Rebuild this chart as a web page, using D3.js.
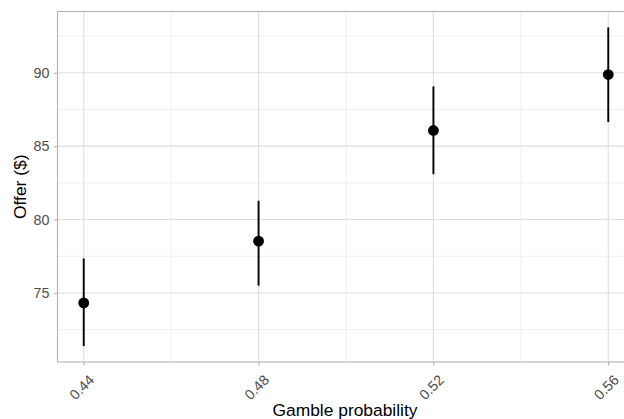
<!DOCTYPE html>
<html>
<head>
<meta charset="utf-8">
<script src="https://cdn.jsdelivr.net/npm/d3@7"></script>
<style>
  body { margin: 0; background: #fff; }
  svg { display: block; }
  svg text { font-family: "Liberation Sans", Arial, sans-serif; }
</style>
</head>
<body>
<div id="chart"></div>
<script>
// gamble probability vs offer, mean with interval
var probs = [0.44, 0.48, 0.52, 0.56];
var offerMean = [74.32, 78.53, 86.07, 89.88];
var offerLow = [71.38, 75.5, 83.09, 86.64];
var offerHigh = [77.35, 81.28, 89.07, 93.09];
var xTicks = [0.44, 0.48, 0.52, 0.56];
var xMinor = [0.46, 0.50, 0.54];
var yTicks = [75, 80, 85, 90];
var yMinor = [72.5, 77.5, 82.5, 87.5, 92.5];

var totalWidth = 624,
    totalHeight = 419;
var margin = {top: 11.5, right: -10.5, bottom: 57, left: 57.5};
var width = totalWidth - margin.left - margin.right,
    height = totalHeight - margin.top - margin.bottom;

var data = probs.map(function(p, i) {
    return {p: p, mean: offerMean[i], lo: offerLow[i], hi: offerHigh[i]};
});

var xr = d3.extent(probs), xPad = (xr[1] - xr[0]) * 0.05;
var xScale = d3.scaleLinear().domain([xr[0] - xPad, xr[1] + xPad]).range([0, width]);
var yr = [d3.min(offerLow), d3.max(offerHigh)], yPad = (yr[1] - yr[0]) * 0.05;
var yScale = d3.scaleLinear().domain([yr[0] - yPad, yr[1] + yPad]).range([height, 0]);

var svg = d3.select("#chart").append("svg")
    .attr("width", totalWidth)
    .attr("height", totalHeight);

var g = svg.append("g").attr("transform", "translate(" + margin.left + "," + margin.top + ")");

// grid
g.selectAll(".ymin").data(yMinor).enter().append("line")
    .attr("x1", 0).attr("x2", width)
    .attr("y1", yScale).attr("y2", yScale)
    .attr("stroke", "#e4e4e4").attr("stroke-width", 0.6);
g.selectAll(".xmin").data(xMinor).enter().append("line")
    .attr("y1", 0).attr("y2", height)
    .attr("x1", xScale).attr("x2", xScale)
    .attr("stroke", "#e4e4e4").attr("stroke-width", 0.6);
g.selectAll(".ymaj").data(yTicks).enter().append("line")
    .attr("x1", 0).attr("x2", width)
    .attr("y1", yScale).attr("y2", yScale)
    .attr("stroke", "#dedede").attr("stroke-width", 1.1);
g.selectAll(".xmaj").data(xTicks).enter().append("line")
    .attr("y1", 0).attr("y2", height)
    .attr("x1", xScale).attr("x2", xScale)
    .attr("stroke", "#dedede").attr("stroke-width", 1.1);

// error bars and points
g.selectAll(".err").data(data).enter().append("line")
    .attr("x1", function(d) { return xScale(d.p); })
    .attr("x2", function(d) { return xScale(d.p); })
    .attr("y1", function(d) { return yScale(d.lo); })
    .attr("y2", function(d) { return yScale(d.hi); })
    .attr("stroke", "#000").attr("stroke-width", 1.9);
g.selectAll(".pt").data(data).enter().append("circle")
    .attr("cx", function(d) { return xScale(d.p); })
    .attr("cy", function(d) { return yScale(d.mean); })
    .attr("r", 5.4)
    .attr("fill", "#000");

// panel border
g.append("rect")
    .attr("x", 0).attr("y", 0)
    .attr("width", width).attr("height", height)
    .attr("fill", "none")
    .attr("stroke", "#b3b3b3").attr("stroke-width", 1.1);

// axes
var yAxis = d3.axisLeft(yScale).tickValues(yTicks).tickSize(3.5).tickPadding(4.5);
var xAxis = d3.axisBottom(xScale).tickValues(xTicks).tickSize(3.5).tickPadding(3)
    .tickFormat(d3.format(".2f"));

var yG = g.append("g").call(yAxis);
var xG = g.append("g").attr("transform", "translate(0," + height + ")").call(xAxis);

[yG, xG].forEach(function(a) {
    a.attr("font-family", null).attr("font-size", null);
    a.select(".domain").remove();
    a.selectAll(".tick line").attr("stroke", "#b3b3b3").attr("stroke-width", 1.1);
    a.selectAll(".tick text").attr("fill", "#4d4d4d").style("font-size", "14.3px");
});

xG.selectAll(".tick text")
    .attr("text-anchor", "end")
    .attr("dy", null)
    .attr("y", 0)
    .attr("transform", "translate(11,19) rotate(-45)");

// titles
svg.append("text")
    .attr("x", 345)
    .attr("y", 415.5)
    .attr("text-anchor", "middle")
    .style("font-size", "17.4px")
    .attr("fill", "#000")
    .text("Gamble probability");

svg.append("text")
    .attr("transform", "translate(25.5," + (margin.top + height / 2) + ") rotate(-90)")
    .attr("text-anchor", "middle")
    .style("font-size", "17.4px")
    .attr("fill", "#000")
    .text("Offer ($)");
</script>
</body>
</html>
